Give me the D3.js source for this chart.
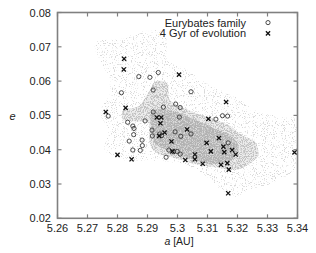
<!DOCTYPE html>
<html><head><meta charset="utf-8">
<script src="https://cdn.jsdelivr.net/npm/d3@7"></script>
<style>html,body{margin:0;padding:0;background:#fff;}svg{display:block;}</style>
</head><body>
<svg id="chart" width="316" height="253"></svg>
<script>
// ---- data ----
const xTicks = [5.26, 5.27, 5.28, 5.29, 5.30, 5.31, 5.32, 5.33, 5.34];
const xTickLabels = ["5.26","5.27","5.28","5.29","5.3","5.31","5.32","5.33","5.34"];
const yTicks = [0.02, 0.03, 0.04, 0.05, 0.06, 0.07, 0.08];
const yTickLabels = ["0.02","0.03","0.04","0.05","0.06","0.07","0.08"];
const legendLabels = ["Eurybates family", "4 Gyr of evolution"];

// Eurybates family members (a [AU], e)
const familyA = [5.2871,5.2908,5.2936,5.2813,5.2919,5.3045,5.2769,5.2919,5.2953,5.2994,5.3009,5.3006,
  5.2834,5.2892,5.2851,5.2855,5.2854,5.2839,5.2882,5.2883,5.2851,5.2876,5.2915,5.2916,
  5.2941,5.2947,5.2992,5.3011,5.3045,5.2971,5.2987,5.2999,5.3009,5.2962,5.3128,5.3150,5.3167,5.3169];
const familyE = [0.0613,0.0611,0.0625,0.0566,0.0574,0.0569,0.0498,0.0510,0.0524,0.0533,0.0523,0.0495,
  0.0480,0.0484,0.0469,0.0462,0.0444,0.0425,0.0428,0.0412,0.0399,0.0398,0.0457,0.0440,
  0.0446,0.0441,0.0452,0.0439,0.0446,0.0399,0.0394,0.0395,0.0387,0.0378,0.0489,0.0499,0.0498,0.0420];

// positions after 4 Gyr of evolution (a [AU], e)
const evolvedA = [5.2822,5.2821,5.3005,5.2827,5.2761,5.3162,5.2931,5.2946,5.2943,5.3103,5.3032,5.2957,
  5.2939,5.2980,5.3138,5.3097,5.3153,5.3111,5.3156,5.3182,5.3194,5.2983,5.3058,5.3058,
  5.3026,5.3084,5.3145,5.3166,5.3171,5.3169,5.2800,5.2847,5.3390];
const evolvedE = [0.0665,0.0634,0.0619,0.0522,0.0510,0.0539,0.0494,0.0494,0.0477,0.0490,0.0459,0.0450,
  0.0440,0.0424,0.0434,0.0420,0.0409,0.0395,0.0393,0.0399,0.0386,0.0395,0.0386,0.0372,
  0.0370,0.0359,0.0356,0.0361,0.0342,0.0273,0.0385,0.0372,0.0392];

// grey cloud of test particles: outer, body and core outlines (a, e)
const cloudOuter = [[5.2742,0.0511],[5.2775,0.0564],[5.2769,0.0613],[5.2725,0.0710],[5.2814,0.0725],
  [5.2914,0.0749],[5.2958,0.0739],[5.2969,0.0661],[5.3036,0.0632],[5.3114,0.0584],[5.3192,0.0555],
  [5.3258,0.0516],[5.3347,0.0496],[5.3399,0.0487],[5.3399,0.0351],[5.3314,0.0302],[5.3236,0.0283],
  [5.3192,0.0263],[5.3147,0.0283],[5.3081,0.0331],[5.3014,0.0360],[5.2947,0.0365],[5.2903,0.0370],
  [5.2847,0.0365],[5.2792,0.0380],[5.2758,0.0399],[5.2769,0.0457]];
const cloudBody = [[5.2819,0.0516],[5.2869,0.0526],[5.2908,0.0574],[5.2925,0.0598],[5.2964,0.0595],
  [5.2975,0.0545],[5.3036,0.0516],[5.3114,0.0491],[5.3169,0.0472],[5.3214,0.0443],[5.3258,0.0423],
  [5.3269,0.0385],[5.3236,0.0356],[5.3192,0.0341],[5.3125,0.0349],[5.3058,0.0358],[5.2992,0.0375],
  [5.2925,0.0394],[5.2908,0.0419],[5.2903,0.0477],[5.2858,0.0482],[5.2819,0.0487]];
const cloudCore = [[5.2914,0.0511],[5.2969,0.0516],[5.3058,0.0487],[5.3125,0.0462],[5.3181,0.0438],
  [5.3203,0.0409],[5.3181,0.0370],[5.3125,0.0358],[5.3058,0.0370],[5.2981,0.0394],[5.2925,0.0419],
  [5.2914,0.0457]];

// ---- drawing ----
const svg = d3.select("#chart");
const L = 57.5, R = 297.5, T = 12.5, B = 218.3;
const x = d3.scaleLinear().domain([5.26, 5.34]).range([L, R]);
const y = d3.scaleLinear().domain([0.02, 0.08]).range([B, T]);
const font = "'Liberation Sans', Arial, Helvetica, sans-serif";
const frameCol = "#808080";

const defs = svg.append("defs");
function speckle(id, thr, seed) {
  const f = defs.append("filter").attr("id",id).attr("filterUnits","userSpaceOnUse")
    .attr("x",0).attr("y",0).attr("width",316).attr("height",253);
  f.append("feTurbulence").attr("type","fractalNoise").attr("baseFrequency","0.9").attr("numOctaves",2).attr("seed",seed).attr("result","n");
  f.append("feColorMatrix").attr("in","n").attr("type","matrix")
    .attr("values",`0 0 0 0 1  0 0 0 0 1  0 0 0 0 1  9 0 0 0 ${-9*thr}`).attr("result","m");
  f.append("feComposite").attr("in","SourceGraphic").attr("in2","m").attr("operator","in");
}
speckle("spOuter", 0.59, 3);
speckle("spBody", 0.47, 7);
speckle("spCore", 0.42, 11);
defs.append("clipPath").attr("id","plotclip").append("rect")
  .attr("x",L).attr("y",T).attr("width",R-L).attr("height",B-T);

const line = d3.line().x(d=>x(d[0])).y(d=>y(d[1])).curve(d3.curveCatmullRomClosed.alpha(0.5));
const cloud = svg.append("g").attr("clip-path","url(#plotclip)");
cloud.append("path").attr("d", line(cloudBody)).attr("fill","#ededed");
cloud.append("path").attr("d", line(cloudCore)).attr("fill","#d8d8d8");
cloud.append("path").attr("d", line(cloudOuter)).attr("fill","#d9d9d9").attr("filter","url(#spOuter)");
cloud.append("path").attr("d", line(cloudBody)).attr("fill","#c2c2c2").attr("filter","url(#spBody)");
cloud.append("path").attr("d", line(cloudCore)).attr("fill","#b2b2b2").attr("filter","url(#spCore)");

// frame with inward ticks on all sides
svg.append("rect").attr("x",L).attr("y",T).attr("width",R-L).attr("height",B-T)
  .attr("fill","none").attr("stroke",frameCol).attr("stroke-width",1.6);
const tk = 4;
const ticksG = svg.append("g").attr("stroke",frameCol).attr("stroke-width",1.2);
xTicks.forEach(v=>{
  ticksG.append("line").attr("x1",x(v)).attr("x2",x(v)).attr("y1",B).attr("y2",B-tk);
  ticksG.append("line").attr("x1",x(v)).attr("x2",x(v)).attr("y1",T).attr("y2",T+tk);
});
yTicks.forEach(v=>{
  ticksG.append("line").attr("x1",L).attr("x2",L+tk).attr("y1",y(v)).attr("y2",y(v));
  ticksG.append("line").attr("x1",R).attr("x2",R-tk).attr("y1",y(v)).attr("y2",y(v));
});

// tick labels
svg.append("g").selectAll("text").data(xTicks).join("text")
  .attr("x",d=>x(d)).attr("y",232).attr("text-anchor","middle")
  .attr("font-family",font).attr("font-size",11).attr("fill","#222")
  .text((d,i)=>xTickLabels[i]);
svg.append("g").selectAll("text").data(yTicks).join("text")
  .attr("x",51).attr("y",d=>y(d)+4).attr("text-anchor","end")
  .attr("font-family",font).attr("font-size",11).attr("fill","#222")
  .text((d,i)=>yTickLabels[i]);

// axis labels
const xl = svg.append("text").attr("x",179).attr("y",245).attr("text-anchor","middle")
  .attr("font-family",font).attr("font-size",10.5).attr("fill","#222");
xl.append("tspan").attr("font-style","italic").text("a");
xl.append("tspan").text(" [AU]");
svg.append("text").attr("x",12.5).attr("y",119.5).attr("text-anchor","middle")
  .attr("font-family",font).attr("font-size",11).attr("font-style","italic").attr("fill","#222").text("e");

// markers
const pts = svg.append("g");
pts.selectAll("circle.fam").data(familyA.map((a,i)=>[a,familyE[i]])).join("circle")
  .attr("class","fam").attr("cx",d=>x(d[0])).attr("cy",d=>y(d[1])).attr("r",2.1)
  .attr("fill","none").attr("stroke","#3a3a3a").attr("stroke-width",0.9);
const cs = 2.1;
const crossPath = (cx,cy)=>`M${cx-cs},${cy-cs}L${cx+cs},${cy+cs}M${cx-cs},${cy+cs}L${cx+cs},${cy-cs}`;
pts.selectAll("path.evo").data(evolvedA.map((a,i)=>[a,evolvedE[i]])).join("path")
  .attr("class","evo").attr("d",d=>crossPath(x(d[0]),y(d[1])))
  .attr("fill","none").attr("stroke","#111").attr("stroke-width",1.3);

// legend
const lg = svg.append("g");
lg.selectAll("text").data(legendLabels).join("text")
  .attr("x",246).attr("y",(d,i)=>26.5+i*10.8).attr("text-anchor","end")
  .attr("font-family",font).attr("font-size",11).attr("fill","#222").text(d=>d);
lg.append("circle").attr("cx",268).attr("cy",22.6).attr("r",2.1)
  .attr("fill","none").attr("stroke","#3a3a3a").attr("stroke-width",0.9);
lg.append("path").attr("d",crossPath(268,33.4)).attr("fill","none").attr("stroke","#111").attr("stroke-width",1.3);
</script>
</body></html>
